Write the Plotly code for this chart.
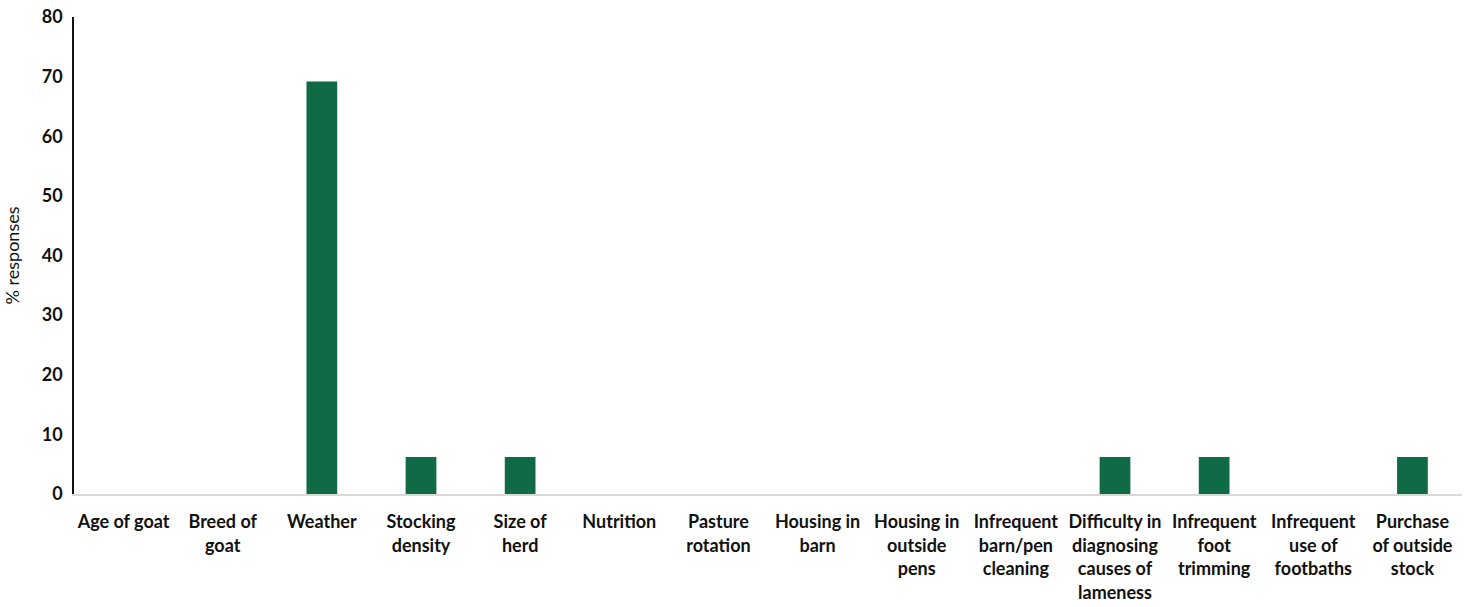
import plotly.graph_objects as go

# Risk factors for lameness and share of responses (%)
categories = [
    'Age of goat',
    'Breed of<br>goat',
    'Weather',
    'Stocking<br>density',
    'Size of<br>herd',
    'Nutrition',
    'Pasture<br>rotation',
    'Housing in<br>barn',
    'Housing in<br>outside<br>pens',
    'Infrequent<br>barn/pen<br>cleaning',
    'Difficulty in<br>diagnosing<br>causes of<br>lameness',
    'Infrequent<br>foot<br>trimming',
    'Infrequent<br>use of<br>footbaths',
    'Purchase<br>of outside<br>stock',
]
responses = [0, 0, 69.2, 6.2, 6.2, 0, 0, 0, 0, 0, 6.2, 6.2, 0, 6.2]
y_ticks = [0, 10, 20, 30, 40, 50, 60, 70, 80]

BAR_COLOR = '#0E6B45'
FONT = 'Lato, Open Sans, sans-serif'

fig = go.Figure()

fig.add_trace(go.Bar(
    x=categories,
    y=responses,
    marker=dict(color=BAR_COLOR, line=dict(width=0)),
    hovertemplate='%{x}<br>%{y}<extra></extra>',
))

fig.update_layout(
    width=1474,
    height=607,
    plot_bgcolor='white',
    paper_bgcolor='white',
    bargap=0.69,
    showlegend=False,
    margin=dict(l=74, r=12, t=17, b=113),
    font=dict(family=FONT, size=16, color='#111111'),
)

fig.update_xaxes(
    automargin=False,
    showline=True,
    linecolor='#d9d9d9',
    linewidth=1.5,
    showgrid=False,
    ticks='',
    tickangle=0,
    ticklabelstandoff=11,
    ticklabeloverflow='allow',
    tickfont=dict(family=FONT, size=18, color='#111111', weight='bold'),
)

fig.update_yaxes(
    automargin=False,
    range=[0, 80],
    tickvals=y_ticks,
    showline=True,
    linecolor='#111111',
    linewidth=1.5,
    showgrid=False,
    zeroline=False,
    ticks='',
    ticklabelstandoff=6,
    ticklabeloverflow='allow',
    tickfont=dict(family=FONT, size=18, color='#111111', weight='bold'),
    title=dict(text='% responses', font=dict(family=FONT, size=18, color='#111111'), standoff=17),
)

# drop the default 8px body margin so the figure sits at the page corner
fig.write_html(
    'out.html',
    config={'displayModeBar': False},
    post_script="document.body.style.margin = '0';",
)
